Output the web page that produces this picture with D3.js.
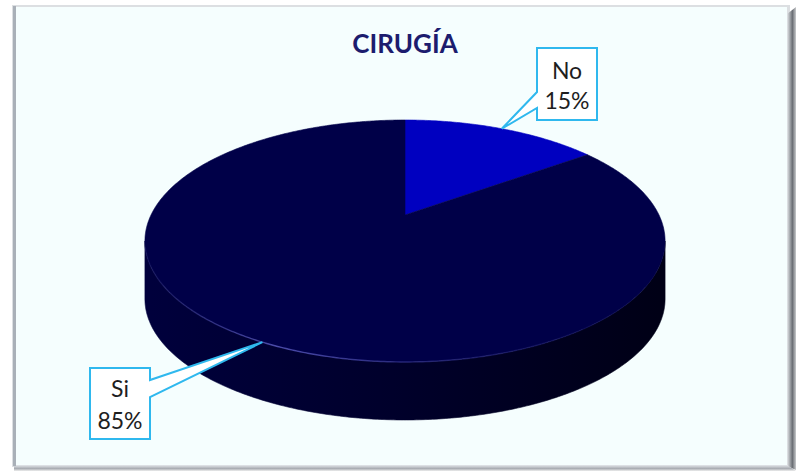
<!DOCTYPE html>
<html>
<head>
<meta charset="utf-8">
<script src="https://cdn.jsdelivr.net/npm/d3@7/dist/d3.min.js"></script>
<style>
  html, body { margin: 0; padding: 0; background: #ffffff; }
  svg { display: block; }
</style>
</head>
<body>
<svg id="chart" width="801" height="472"></svg>
<script>
// ---- data ----
const title = "CIRUGÍA";
const categories = ["No", "Si"];
const values = [15, 85];
const colors = ["#0000C0", "#000048"];

// ---- layout ----
const W = 801, H = 472;
const cx = 405, cy = 215;        // projected pie centre
const Rx = 254, Ry = 115.4;      // radii before perspective
const k = 0.2148;                // perspective strength
const depth = 58;                // thickness of the pie
// callout boxes (x0, y0, x1, y1) and side of the pointer
const boxes = [
  { x0: 537, y0: 48, x1: 597, y1: 120, side: "left", p0: 92, p1: 108, b1: 79, b2: 109 },
  { x0: 90, y0: 368, x1: 150, y1: 439, side: "right", p0: 380, p1: 397, b1: 397, b2: 429 }
];

const svg = d3.select("#chart");
const defs = svg.append("defs");

// frame
const frameG = defs.append("linearGradient").attr("id", "rshadow").attr("x1", 0).attr("x2", 1).attr("y1", 0).attr("y2", 0);
frameG.append("stop").attr("offset", 0).attr("stop-color", "#e6e9ec");
frameG.append("stop").attr("offset", 0.6).attr("stop-color", "#6a6e74");
frameG.append("stop").attr("offset", 1).attr("stop-color", "#c8cacc");
const bG = defs.append("linearGradient").attr("id", "bshadow").attr("x1", 0).attr("x2", 0).attr("y1", 0).attr("y2", 1);
bG.append("stop").attr("offset", 0).attr("stop-color", "#e4e8ec");
bG.append("stop").attr("offset", 0.6).attr("stop-color", "#a8acb2");
bG.append("stop").attr("offset", 1).attr("stop-color", "#eeeeee");

svg.append("rect").attr("x", 12).attr("y", 5).attr("width", 778).attr("height", 462)
  .attr("fill", "#dcdfe2");
svg.append("polygon").attr("points", "787,14 796,7 796,470 787,466").attr("fill", "url(#rshadow)");
svg.append("polygon").attr("points", "14,465 787,465 796,471 14,471").attr("fill", "url(#bshadow)");
svg.append("rect").attr("x", 13).attr("y", 6).attr("width", 3).attr("height", 460).attr("fill", "#a9b0b8");
svg.append("rect").attr("x", 16).attr("y", 7).attr("width", 771).attr("height", 458).attr("fill", "#f5fefe");

// projection: theta clockwise from 12 o'clock (far side of the disc)
function proj(theta, dy) {
  const u = Math.sin(theta), v = Math.cos(theta);
  const w = 1 + k * v;
  return [cx + Rx * u / w, cy - Ry * v / w + (dy || 0)];
}
function arcPts(a0, a1, dy) {
  const n = Math.max(2, Math.ceil(Math.abs(a1 - a0) / 0.01));
  return d3.range(n + 1).map(i => proj(a0 + (a1 - a0) * i / n, dy));
}

const pie = d3.pie().sort(null).value(d => d.value).startAngle(0).endAngle(2 * Math.PI);
const arcs = pie(categories.map((c, i) => ({ cat: c, value: values[i], color: colors[i] })));
const total = d3.sum(values);
const pct = d3.format(".0%");

// visible side range (silhouette where cos(theta) = -k)
const visA = Math.acos(-k), visB = 2 * Math.PI - Math.acos(-k);

const sideGrad = defs.append("linearGradient").attr("id", "sideG")
  .attr("gradientUnits", "userSpaceOnUse").attr("x1", cx - Rx).attr("x2", cx + Rx).attr("y1", 0).attr("y2", 0);
sideGrad.append("stop").attr("offset", 0).attr("stop-color", "#00003c");
sideGrad.append("stop").attr("offset", 0.45).attr("stop-color", "#00002c");
sideGrad.append("stop").attr("offset", 1).attr("stop-color", "#000016");

const line = d3.line();
const gSide = svg.append("g");
arcs.forEach((a, i) => {
  const s = Math.max(a.startAngle, visA), e = Math.min(a.endAngle, visB);
  if (e <= s) return;
  const top = arcPts(s, e, 0);
  const bot = arcPts(e, s, depth);
  const fill = i === 1 ? "url(#sideG)" : d3.color(a.data.color).darker(1.2).formatHex();
  gSide.append("path").attr("d", line(top.concat(bot)) + "Z").attr("fill", fill)
    .attr("stroke", fill).attr("stroke-width", 0.6);
});

// top faces
const gTop = svg.append("g");
arcs.forEach(a => {
  const pts = [[cx, cy]].concat(arcPts(a.startAngle, a.endAngle, 0));
  gTop.append("path").attr("d", line(pts) + "Z").attr("fill", a.data.color)
    .attr("stroke", a.data.color).attr("stroke-width", 0.6);
});

// rim highlight along near edge
const rimG = defs.append("linearGradient").attr("id", "rimG")
  .attr("gradientUnits", "userSpaceOnUse").attr("x1", cx - Rx).attr("x2", cx + Rx).attr("y1", 0).attr("y2", 0);
rimG.append("stop").attr("offset", 0).attr("stop-color", "#5555b0").attr("stop-opacity", 0.15);
rimG.append("stop").attr("offset", 0.25).attr("stop-color", "#5a5ac0").attr("stop-opacity", 0.8);
rimG.append("stop").attr("offset", 0.55).attr("stop-color", "#4a4ab0").attr("stop-opacity", 0.4);
rimG.append("stop").attr("offset", 1).attr("stop-color", "#4a4ab0").attr("stop-opacity", 0);
svg.append("path").attr("d", line(arcPts(visA + 0.3, visB - 0.05, 0)))
  .attr("fill", "none").attr("stroke", "url(#rimG)").attr("stroke-width", 1.4);

// title
svg.append("text").attr("x", 405).attr("y", 53).attr("text-anchor", "middle")
  .attr("font-family", "Lato, 'Open Sans', sans-serif").attr("font-weight", 700)
  .attr("font-size", 26).attr("fill", "#1c1c6e").text(title);

// callouts
arcs.forEach((a, i) => {
  const b = boxes[i];
  const mid = (a.startAngle + a.endAngle) / 2;
  const tip = proj(mid, 0);
  let d;
  if (b.side === "left") {
    d = `M${b.x0},${b.y0}H${b.x1}V${b.y1}H${b.x0}V${b.p1}L${tip[0]},${tip[1]}L${b.x0},${b.p0}Z`;
  } else {
    d = `M${b.x0},${b.y0}H${b.x1}V${b.p0}L${tip[0]},${tip[1]}L${b.x1},${b.p1}V${b.y1}H${b.x0}Z`;
  }
  svg.append("path").attr("d", d).attr("fill", "#ffffff").attr("stroke", "#2fb8ee")
    .attr("stroke-width", 2).attr("stroke-linejoin", "miter");
  const xc = (b.x0 + b.x1) / 2;
  const t = svg.append("text").attr("text-anchor", "middle")
    .attr("font-family", "Lato, 'Open Sans', sans-serif").attr("font-size", 23)
    .attr("fill", "#1e1e1e");
  t.append("tspan").attr("x", xc).attr("y", b.b1).text(a.data.cat);
  t.append("tspan").attr("x", xc).attr("y", b.b2).text(pct(a.data.value / total));
});
</script>
</body>
</html>
